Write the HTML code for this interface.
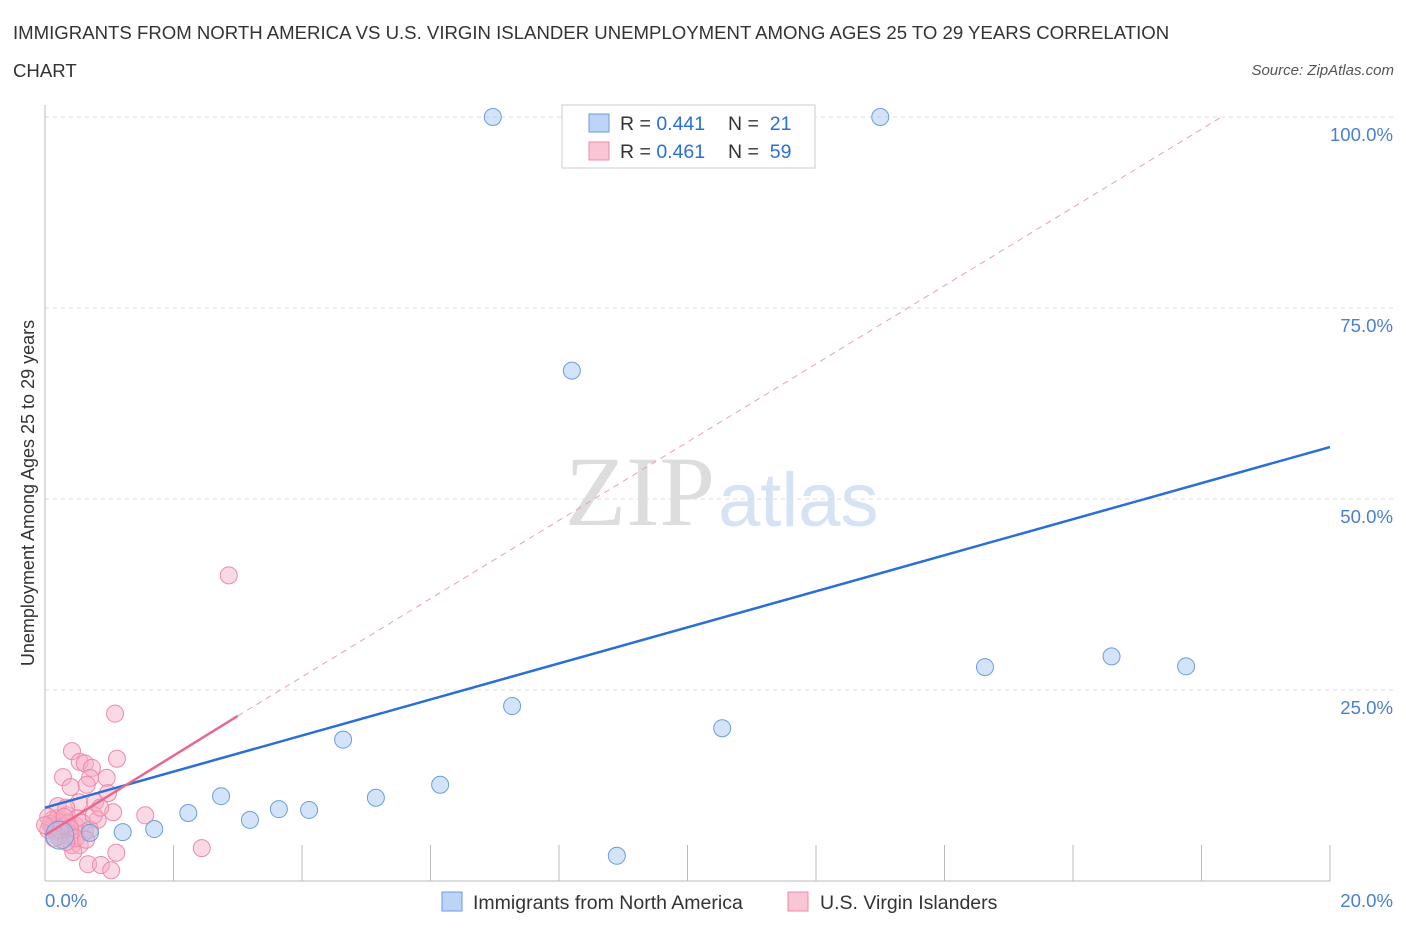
<!DOCTYPE html>
<html><head><meta charset="utf-8"><style>
body{margin:0;background:#fff;font-family:"Liberation Sans",sans-serif;}
#wrap{position:relative;width:1406px;height:930px;overflow:hidden}
.t{position:absolute;white-space:nowrap}
</style></head><body><div id="wrap">
<div class="t" style="left:13px;top:14px;font-size:18.6px;color:#333;line-height:38px">IMMIGRANTS FROM NORTH AMERICA VS U.S. VIRGIN ISLANDER UNEMPLOYMENT AMONG AGES 25 TO 29 YEARS CORRELATION<br>CHART</div>
<div class="t" style="right:12px;top:62px;font-size:15px;color:#555;font-style:italic">Source: ZipAtlas.com</div>
<svg id="svg" width="1406" height="930" style="position:absolute;left:0;top:0"></svg>
</div>
<script>
const blueX=[6.97,13.0,8.2,14.63,16.6,17.76,7.27,10.54,4.64,6.15,5.15,2.74,3.64,4.11,2.23,3.19,1.70,1.21,0.70,8.9,0.23];
const blueY=[100,100,66.8,28.0,29.4,28.1,22.9,20.0,18.5,12.6,10.9,11.1,9.4,9.3,8.9,8.0,6.8,6.4,6.3,3.3,6.0];
const pinkX=[2.86,1.09,0.42,1.12,0.54,0.62,0.28,0.73,0.96,0.70,0.40,0.65,0.98,0.53,0.20,0.78,1.06,1.56,0.82,0.34,0.11,0.23,0.47,0.16,0.05,0.31,0.39,0.62,0.26,0.42,0.54,0.44,2.44,1.11,0.67,0.87,1.03,0.11,0.19,0.33,0.50,0.08,0.16,0.26,0.36,0.20,0.30,0.05,0.58,0.39,0.23,0.0,0.70,0.48,0.33,0.14,0.64,0.76,0.86];
const pinkY=[40.0,21.9,17.0,16.0,15.6,15.4,13.6,14.8,13.5,13.5,12.3,12.6,11.5,10.3,9.8,10.3,9.0,8.6,8.0,8.6,8.0,7.6,7.3,6.9,6.7,6.7,6.0,6.4,5.4,4.7,4.7,3.8,4.3,3.7,2.2,2.1,1.4,7.2,8.2,9.6,8.2,7.5,6.5,7.1,7.6,5.8,8.4,8.4,7.6,6.9,6.7,7.3,6.7,5.6,5.1,5.6,5.4,8.6,9.6];
const blueLine=[9.6,56.8];
const pinkLine=[6.0,21.6];
const yTicks=[25,50,75,100];
const xTicks=[0,2,4,6,8,10,12,14,16,18,20];
const sx=v=>45+v/20*1285, sy=v=>881-v*7.64;
const NS="http://www.w3.org/2000/svg", svg=document.getElementById('svg');
function mk(tag,a,name){const e=document.createElementNS(NS,tag);for(const k in a)e.setAttribute(k,a[k]);


svg.appendChild(e);return e;}
let t=mk('text',{x:715,y:525,'font-size':100,fill:'#ddd','text-anchor':'end','font-family':'Liberation Serif'},'watermark-zip');t.textContent='ZIP';
t=mk('text',{x:718,y:526,'font-size':76,fill:'#d5e3f5'},'watermark-atlas');t.textContent='atlas';
yTicks.forEach(v=>{mk('line',{x1:45,x2:1395,y1:sy(v),y2:sy(v),stroke:'#ddd','stroke-dasharray':'4,4'},'gridline');
const t=mk('text',{x:1393,y:sy(v)+24,'text-anchor':'end','font-size':18.6,fill:'#4a7fd4'},'y-tick-label');t.textContent=v.toFixed(1)+'%';});
mk('line',{x1:45,x2:45,y1:105,y2:881,stroke:'#bbb'},'y-axis');
mk('line',{x1:45,x2:1330,y1:881,y2:881,stroke:'#bbb'},'x-axis');
xTicks.forEach(v=>mk('line',{x1:sx(v),x2:sx(v),y1:845,y2:881,stroke:'#bbb'},'x-tick'));
t=mk('text',{x:45,y:907,'font-size':18.6,fill:'#4a7fd4'},'x-tick-label');t.textContent='0.0%';
t=mk('text',{x:1393,y:907,'text-anchor':'end','font-size':18.6,fill:'#4a7fd4'},'x-tick-label');t.textContent='20.0%';
t=mk('text',{x:0,y:0,'font-size':18,fill:'#333','text-anchor':'middle',transform:'translate(34,493) rotate(-90)'},'y-axis-title');t.textContent='Unemployment Among Ages 25 to 29 years';
const ps=(pinkLine[1]-pinkLine[0])/3, xe=(100-pinkLine[0])/ps;
mk('line',{x1:sx(3),y1:sy(pinkLine[1]),x2:sx(xe)+15,y2:sy(100),stroke:'#e8a0b4','stroke-dasharray':'6,5'},'pink-trend-dashed');
pinkX.forEach((x,i)=>mk('circle',{cx:sx(x),cy:sy(pinkY[i]),r:8.5,fill:'rgba(246,170,195,0.45)',stroke:'#ee8aa8','stroke-width':1},'pink-point'));
blueX.forEach((x,i)=>mk('circle',{cx:sx(x),cy:sy(blueY[i]),r:i==20?14:8.5,fill:'rgba(160,195,240,0.45)',stroke:'#6b9de0','stroke-width':1},'blue-point'));
mk('line',{x1:sx(0),y1:sy(blueLine[0]),x2:sx(20),y2:sy(blueLine[1]),stroke:'#2a6fd6','stroke-width':2.5},'blue-trend-line');
mk('line',{x1:sx(0),y1:sy(pinkLine[0]),x2:sx(3),y2:sy(pinkLine[1]),stroke:'#e8688f','stroke-width':2.5},'pink-trend-line');
mk('rect',{x:562,y:105,width:253,height:63,fill:'#fff',stroke:'#ccc'},'legend-box');
[[0,'#bcd4f6','#6b9de0','0.441','21'],[1,'#f9c6d5','#ee8aa8','0.461','59']].forEach(r=>{const y=123+r[0]*28;
mk('rect',{x:589,y:y-9,width:20,height:18,fill:r[1],stroke:r[2]},'legend-swatch');
let a=mk('text',{x:620,y:y+7,'font-size':19.5,fill:'#333'},'legend-r');a.innerHTML='R = <tspan fill="#2a6fd6">'+r[3]+'</tspan>';
a=mk('text',{x:728,y:y+7,'font-size':19.5,fill:'#333'},'legend-n');a.innerHTML='N = &#160;<tspan fill="#2a6fd6">'+r[4]+'</tspan>';});
mk('rect',{x:442,y:892,width:20,height:19,fill:'#bcd4f6',stroke:'#6b9de0'},'bottom-legend-swatch-blue');
t=mk('text',{x:473,y:909,'font-size':19.5,fill:'#333'},'bottom-legend-blue');t.textContent='Immigrants from North America';
mk('rect',{x:788,y:892,width:20,height:19,fill:'#f9c6d5',stroke:'#ee8aa8'},'bottom-legend-swatch-pink');
t=mk('text',{x:820,y:909,'font-size':19.5,fill:'#333'},'bottom-legend-pink');t.textContent='U.S. Virgin Islanders';
</script></body></html>
